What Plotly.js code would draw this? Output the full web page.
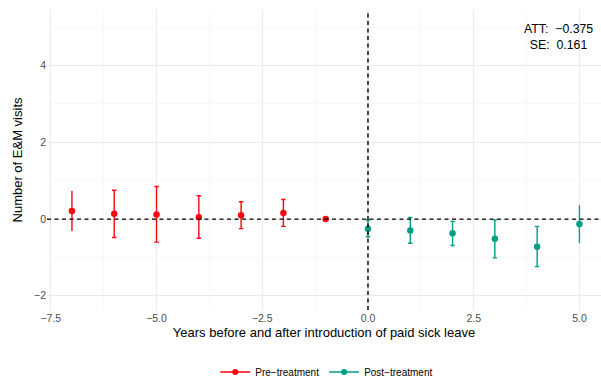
<!DOCTYPE html>
<html>
<head>
<meta charset="utf-8">
<script src="https://cdn.plot.ly/plotly-3.0.1.min.js"></script>
<style>html,body{margin:0;padding:0;background:#fff;}#chart{width:601px;height:379px;}</style>
</head>
<body>
<div id="chart"></div>
<script>
// Data
const preYears = [-7, -6, -5, -4, -3, -2, -1];
const preEst   = [0.21, 0.14, 0.12, 0.05, 0.10, 0.16, 0.0];
const preHi    = [0.73, 0.75, 0.85, 0.61, 0.45, 0.51, 0.0];
const preLo    = [-0.31, -0.48, -0.60, -0.50, -0.25, -0.19, 0.0];

const postYears = [0, 1, 2, 3, 4, 5];
const postEst   = [-0.25, -0.30, -0.37, -0.51, -0.72, -0.13];
const postHi    = [-0.03, 0.04, -0.06, -0.02, -0.19, 0.36];
const postLo    = [-0.46, -0.63, -0.69, -1.01, -1.24, -0.63];

const xTickVals = [-7.5, -5.0, -2.5, 0.0, 2.5, 5.0];
const xTickText = ["\u22127.5", "\u22125.0", "\u22122.5", "0.0", "2.5", "5.0"];
const yTickVals = [-2, 0, 2, 4];
const yTickText = ["\u22122", "0", "2", "4"];

const attText = "ATT:  \u22120.375";
const seText = "SE:  0.161";

const RED = "#F5090F";
const TEAL = "#009E86";

// points whose error bars are drawn without caps in the reference
const noCapYears = [-7, 5];

function buildTraces(xs, est, hi, lo, color) {
  const capX = [], capY = [], capP = [], capM = [];
  const ncX = [], ncY = [], ncP = [], ncM = [];
  xs.forEach((x, i) => {
    const p = hi[i] - est[i], m = est[i] - lo[i];
    if (noCapYears.includes(x)) { ncX.push(x); ncY.push(est[i]); ncP.push(p); ncM.push(m); }
    else { capX.push(x); capY.push(est[i]); capP.push(p); capM.push(m); }
  });
  const base = {type: 'scatter', mode: 'markers', showlegend: false, hoverinfo: 'skip',
    marker: {color: color, size: 6.5}};
  return [
    Object.assign({}, base, {x: capX, y: capY,
      error_y: {type: 'data', symmetric: false, array: capP, arrayminus: capM, color: color, thickness: 1.4, width: 2.2}}),
    Object.assign({}, base, {x: ncX, y: ncY,
      error_y: {type: 'data', symmetric: false, array: ncP, arrayminus: ncM, color: color, thickness: 1.4, width: 0}})
  ];
}

const traces = [
  ...buildTraces(preYears, preEst, preHi, preLo, RED),
  ...buildTraces(postYears, postEst, postHi, postLo, TEAL),
  {type: 'scatter', mode: 'lines+markers', x: [null], y: [null], name: 'Pre\u2212treatment',
   line: {color: RED, width: 1.5}, marker: {color: RED, size: 6}, showlegend: true},
  {type: 'scatter', mode: 'lines+markers', x: [null], y: [null], name: 'Post\u2212treatment',
   line: {color: TEAL, width: 1.5}, marker: {color: TEAL, size: 6}, showlegend: true}
];

const layout = {
  width: 601, height: 379,
  margin: {l: 47, r: 0, t: 10, b: 69, autoexpand: false},
  paper_bgcolor: '#fff', plot_bgcolor: '#fff',
  font: {family: 'Liberation Sans, Arial, sans-serif', size: 11, color: '#000'},
  xaxis: {
    range: [-7.59, 5.51], tickvals: xTickVals, ticktext: xTickText,
    showgrid: true, gridcolor: '#EBEBEB', gridwidth: 1.1, zeroline: false, showline: false,
    ticks: '', tickfont: {size: 10.5, color: '#4D4D4D'}, automargin: false,
    minor: {tickvals: [-6.25, -3.75, -1.25, 1.25, 3.75], showgrid: true, gridcolor: '#F3F3F3', gridwidth: 0.6},
    title: {text: 'Years before and after introduction of paid sick leave', font: {size: 13, color: '#000'}, standoff: 5},
    fixedrange: true
  },
  yaxis: {
    range: [-2.37, 5.45], tickvals: yTickVals, ticktext: yTickText,
    showgrid: true, gridcolor: '#EBEBEB', gridwidth: 1.1, zeroline: false, showline: false,
    ticks: '', tickfont: {size: 10.5, color: '#4D4D4D'}, automargin: false,
    minor: {tickvals: [-1, 1, 3, 5], showgrid: true, gridcolor: '#F3F3F3', gridwidth: 0.6},
    title: {text: 'Number of E&M visits', font: {size: 13, color: '#000'}, standoff: 8},
    fixedrange: true
  },
  shapes: [
    {type: 'line', xref: 'paper', x0: 0, x1: 1, yref: 'y', y0: 0, y1: 0, layer: 'above',
     line: {color: '#000', width: 1.4, dash: '4px,3.5px'}},
    {type: 'line', xref: 'x', x0: 0, x1: 0, yref: 'paper', y0: 0, y1: 1, layer: 'above',
     line: {color: '#000', width: 1.4, dash: '4px,3.5px'}}
  ],
  annotations: [
    {xref: 'x', yref: 'y', x: 4.5, y: 4.75, text: attText + '<br>' + seText, showarrow: false,
     align: 'center', font: {size: 12.3, color: '#000'}}
  ],
  legend: {orientation: 'h', x: 0.505, xanchor: 'center', y: -0.207, yanchor: 'middle',
    font: {size: 10, color: '#000'}, itemwidth: 30, tracegroupgap: 0}
};

Plotly.newPlot('chart', traces, layout, {displayModeBar: false, staticPlot: true});
</script>
</body>
</html>
